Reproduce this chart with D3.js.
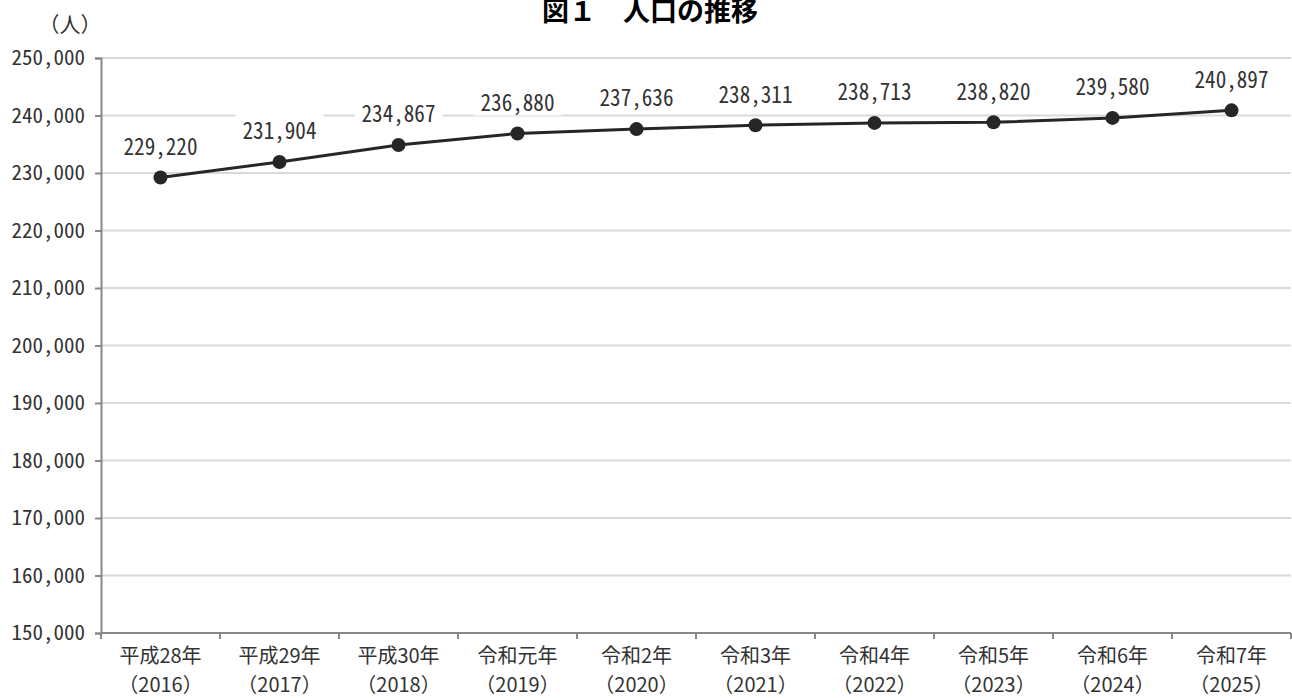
<!DOCTYPE html>
<html>
<head>
<meta charset="utf-8">
<script src="https://cdn.jsdelivr.net/npm/d3@7/dist/d3.min.js"></script>
<style>
  html, body { margin: 0; padding: 0; background: #fff; }
  svg { display: block; }
</style>
</head>
<body>
<svg id="chart" width="1292" height="698"></svg>
<script>
const title = "図１　人口の推移";
const unitLabel = "（人）";
const eraLabels = ["平成28年", "平成29年", "平成30年", "令和元年", "令和2年", "令和3年", "令和4年", "令和5年", "令和6年", "令和7年"];
const yearLabels = ["（2016）", "（2017）", "（2018）", "（2019）", "（2020）", "（2021）", "（2022）", "（2023）", "（2024）", "（2025）"];
const population = [229220, 231904, 234867, 236880, 237636, 238311, 238713, 238820, 239580, 240897];
const yTicks = [150000, 160000, 170000, 180000, 190000, 200000, 210000, 220000, 230000, 240000, 250000];

(function() {
const svg = d3.select("#chart");
const mLeft = 101, mRight = 1291, mTop = 58, mBottom = 633;
const monoFont = "'Noto Sans Mono CJK JP', 'Noto Sans CJK JP', 'DejaVu Sans Mono', monospace";
const cjkFont = "'Noto Sans CJK JP', 'Noto Sans', sans-serif";

const x = d3.scaleBand().domain(d3.range(population.length)).range([mLeft, mRight]).padding(0);
const y = d3.scaleLinear().domain([150000, 250000]).range([mBottom, mTop]);
const fmt = d3.format(",");

// Gridlines
svg.append("g").selectAll("line").data(yTicks.filter(d => d > 150000)).join("line")
  .attr("x1", mLeft).attr("x2", mRight)
  .attr("y1", d => y(d)).attr("y2", d => y(d))
  .attr("stroke", "#d9d9d9").attr("stroke-width", 2);

// Y axis
const yAxis = d3.axisLeft(y).tickValues(yTicks).tickFormat(fmt).tickSize(6).tickPadding(10);
const gy = svg.append("g").attr("transform", `translate(${mLeft},0)`).call(yAxis);
gy.select(".domain").attr("stroke", "#888").attr("stroke-width", 2);
gy.selectAll(".tick line").attr("stroke", "#888").attr("stroke-width", 2);
gy.selectAll(".tick text").attr("font-family", monoFont).attr("font-size", 21).attr("fill", "#333");

// X axis baseline and ticks at band boundaries
const boundaries = population.map((d, i) => x(i)).concat([mRight]);
svg.append("line").attr("x1", mLeft).attr("x2", mRight).attr("y1", mBottom).attr("y2", mBottom)
  .attr("stroke", "#888").attr("stroke-width", 2);
svg.append("g").selectAll("line").data(boundaries).join("line")
  .attr("x1", d => d).attr("x2", d => d).attr("y1", mBottom).attr("y2", mBottom + 6)
  .attr("stroke", "#888").attr("stroke-width", 2);

// X labels
const cx = i => x(i) + x.bandwidth() / 2;
const xl = svg.append("g");
xl.selectAll("text.era").data(eraLabels).join("text").attr("class", "era")
  .attr("x", (d, i) => cx(i)).attr("y", 663)
  .attr("text-anchor", "middle").attr("font-family", cjkFont).attr("font-size", 20).attr("fill", "#333")
  .text(d => d);
xl.selectAll("text.yr").data(yearLabels).join("text").attr("class", "yr")
  .attr("x", (d, i) => cx(i)).attr("y", 692)
  .attr("text-anchor", "middle").attr("font-family", cjkFont).attr("font-size", 20).attr("fill", "#333")
  .text(d => d);

// Line
const line = d3.line().x((d, i) => cx(i)).y(d => y(d));
svg.append("path").datum(population).attr("d", line)
  .attr("fill", "none").attr("stroke", "#262626").attr("stroke-width", 3);

// Data labels with white background
const lg = svg.append("g");
const labels = lg.selectAll("g").data(population).join("g")
  .attr("transform", (d, i) => `translate(${cx(i)},${y(d) - 31})`);
labels.append("rect").attr("fill", "#fff");
labels.append("text")
  .attr("text-anchor", "middle").attr("dy", "0.36em")
  .attr("font-family", monoFont).attr("font-size", 23).attr("fill", "#333")
  .attr("transform", "scale(0.92,1)")
  .text(d => fmt(d));
labels.each(function() {
  const t = d3.select(this).select("text").node().getBBox();
  const w = t.width * 0.92;
  d3.select(this).select("rect")
    .attr("x", -w / 2 - 7).attr("width", w + 14)
    .attr("y", -18).attr("height", 31);
});

// Markers
svg.append("g").selectAll("circle").data(population).join("circle")
  .attr("cx", (d, i) => cx(i)).attr("cy", d => y(d)).attr("r", 7)
  .attr("fill", "#262626");

// Title and unit
svg.append("text").attr("x", 650).attr("y", 21).attr("text-anchor", "middle")
  .attr("font-family", cjkFont).attr("font-weight", "bold").attr("font-size", 27).attr("fill", "#000")
  .text(title);
svg.append("text").attr("x", 70).attr("y", 32).attr("text-anchor", "middle")
  .attr("font-family", cjkFont).attr("font-size", 21).attr("fill", "#333")
  .text(unitLabel);
})();
</script>
</body>
</html>
